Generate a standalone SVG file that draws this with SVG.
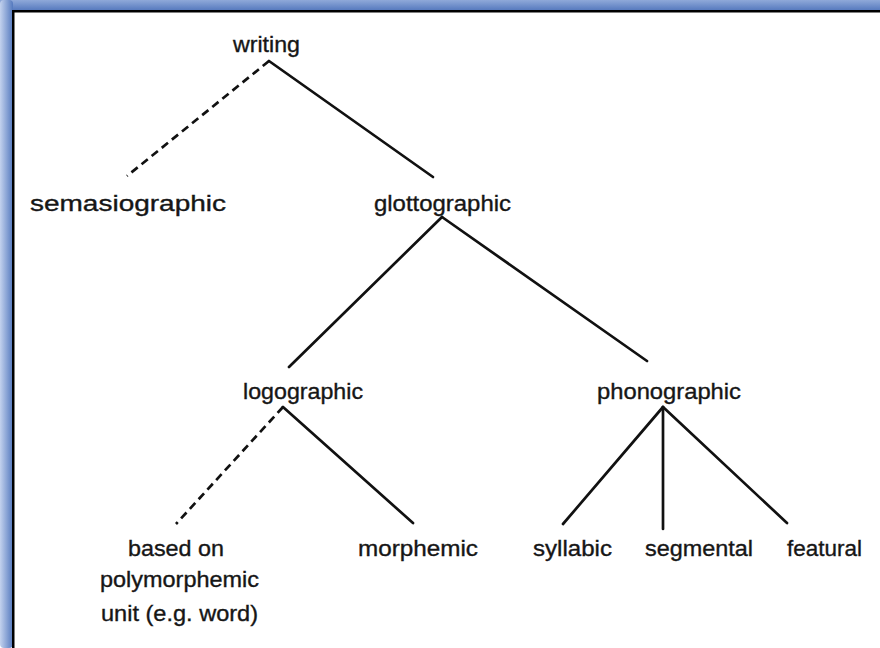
<svg xmlns="http://www.w3.org/2000/svg" width="880" height="648" viewBox="0 0 880 648">
<defs>
<linearGradient id="gTop" x1="0" y1="0" x2="0" y2="1">
<stop offset="0" stop-color="#8fa9d9"/>
<stop offset="1" stop-color="#5276bc"/>
</linearGradient>
<linearGradient id="gLeft" x1="0" y1="0" x2="1" y2="0">
<stop offset="0" stop-color="#c3d2ee"/>
<stop offset="1" stop-color="#5479be"/>
</linearGradient>
<style>
.t{font-family:"Liberation Sans",Arial,sans-serif;font-size:22px;fill:#161616;stroke:#161616;stroke-width:0.35;}
.c{stroke:#111;stroke-width:2.7;fill:none;stroke-linecap:round;}
.d{stroke-dasharray:8 5;stroke-linecap:butt;}
</style>
</defs>
<rect width="880" height="648" fill="#ffffff"/>
<g id="frame">
<rect x="0" y="0" width="880" height="11" fill="url(#gTop)"/>
<rect x="0" y="0" width="13" height="648" fill="url(#gLeft)" rx="4"/>
<rect x="12" y="10" width="868" height="2.5" fill="#000"/>
<rect x="12" y="10" width="2.5" height="638" fill="#000"/>
</g>
<g id="connectors">
<line class="c d" x1="269" y1="61" x2="127" y2="176"/>
<line class="c" x1="269" y1="61" x2="433" y2="177"/>
<line class="c" x1="442" y1="217" x2="289" y2="367"/>
<line class="c" x1="442" y1="217" x2="647" y2="361"/>
<line class="c d" x1="283" y1="407" x2="176" y2="524"/>
<line class="c" x1="283" y1="407" x2="413" y2="523"/>
<line class="c" x1="663" y1="407" x2="563" y2="524"/>
<line class="c" x1="663" y1="407" x2="663" y2="529"/>
<line class="c" x1="663" y1="407" x2="787" y2="523"/>
</g>
<g id="writing"><text class="t" x="233" y="52" textLength="67" lengthAdjust="spacingAndGlyphs">writing</text></g>
<g id="semasiographic"><text class="t" x="30" y="211" textLength="196" lengthAdjust="spacingAndGlyphs">semasiographic</text></g>
<g id="glottographic"><text class="t" x="374" y="211" textLength="137" lengthAdjust="spacingAndGlyphs">glottographic</text></g>
<g id="logographic"><text class="t" x="243" y="399" textLength="120" lengthAdjust="spacingAndGlyphs">logographic</text></g>
<g id="phonographic"><text class="t" x="597" y="399" textLength="144" lengthAdjust="spacingAndGlyphs">phonographic</text></g>
<g id="polymorphemic">
<text class="t" x="128" y="556" textLength="96" lengthAdjust="spacingAndGlyphs">based on</text>
<text class="t" x="100" y="587" textLength="159" lengthAdjust="spacingAndGlyphs">polymorphemic</text>
<text class="t" x="101" y="621" textLength="157" lengthAdjust="spacingAndGlyphs">unit (e.g. word)</text>
</g>
<g id="morphemic"><text class="t" x="358" y="556" textLength="120" lengthAdjust="spacingAndGlyphs">morphemic</text></g>
<g id="syllabic"><text class="t" x="533" y="556" textLength="79" lengthAdjust="spacingAndGlyphs">syllabic</text></g>
<g id="segmental"><text class="t" x="645" y="556" textLength="108" lengthAdjust="spacingAndGlyphs">segmental</text></g>
<g id="featural"><text class="t" x="787" y="556" textLength="75" lengthAdjust="spacingAndGlyphs">featural</text></g>
</svg>
